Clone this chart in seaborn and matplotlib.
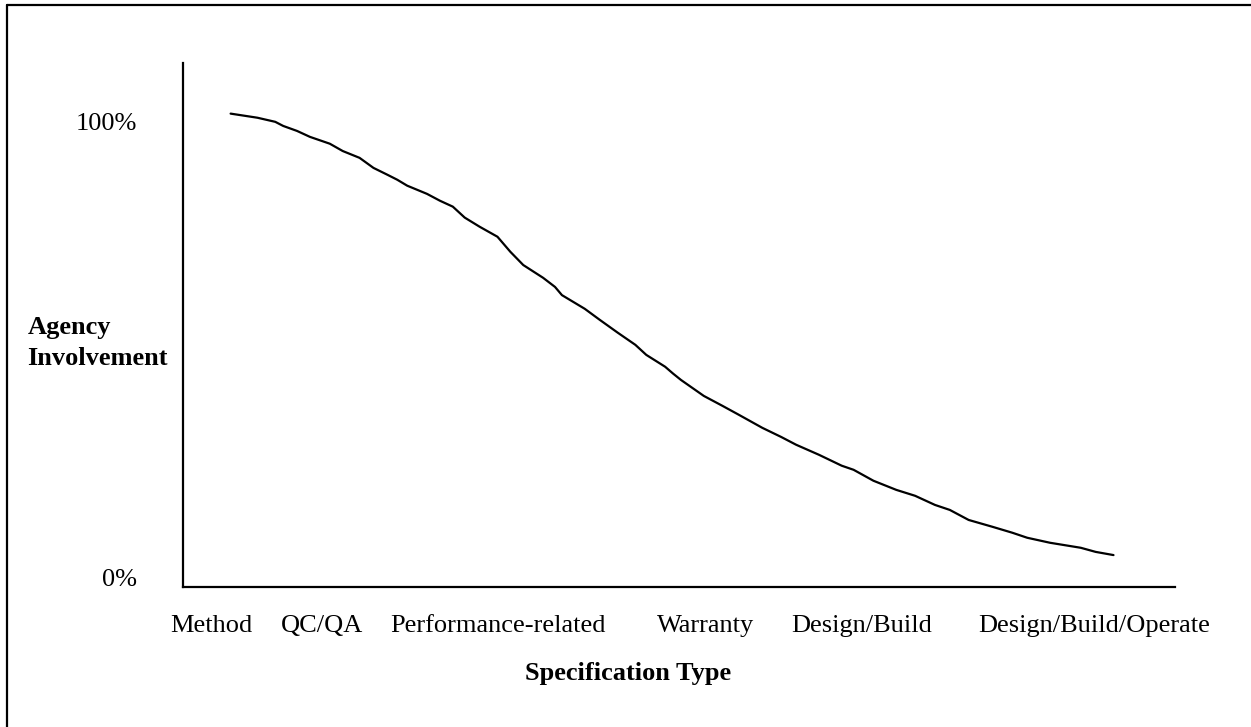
import matplotlib
matplotlib.use("Agg")
import matplotlib.pyplot as plt
from matplotlib.lines import Line2D
import seaborn as sns


# spec types along the x scale (0-100 position scale)
spec_types = ["Method", "QC/QA", "Performance-related", "Warranty",
              "Design/Build", "Design/Build/Operate"]
spec_pos = [2.9, 14.0, 31.8, 52.7, 68.4, 91.9]

# agency involvement curve (%)
curve_pos = [4.8, 7.5, 9.3, 10.1, 11.5, 12.8, 14.8, 16.1, 17.8, 19.2, 20.6,
             21.6, 22.6, 24.6, 25.9, 27.2, 28.4, 29.9, 31.7, 33.0, 34.3,
             36.3, 37.5, 38.2, 40.5, 42.0, 43.8, 45.6, 46.7, 48.6,
             49.4, 50.2, 52.5, 54.4, 56.0, 58.4, 60.3, 61.8, 64.1, 66.4,
             67.6, 69.6, 71.9, 73.8, 75.8, 77.3, 79.2, 81.6, 83.6, 85.1,
             87.4, 90.5, 92.0, 93.8]
involvement = [101.8, 100.9, 100.0, 99.1, 98.0, 96.7, 95.2, 93.6, 92.1, 89.9,
               88.4, 87.3, 86.0, 84.2, 82.7, 81.4, 79.0, 77.0, 74.8, 71.5,
               68.6, 65.8, 63.8, 62.0, 59.0, 56.6, 53.8, 51.1, 48.9,
               46.3, 44.8, 43.4, 39.9, 37.7, 35.8, 32.9, 30.9, 29.2, 27.0,
               24.6, 23.7, 21.3, 19.3, 18.0, 16.0, 14.9, 12.7, 11.2, 9.9,
               8.8, 7.7, 6.6, 5.7, 5.0]

y_ticks = [0, 100]
y_tick_labels = ["0%", "100%"]

W, H = 1251, 727


def main():
    sns.set_theme(style="white")
    plt.rcParams["font.family"] = ["Liberation Serif", "DejaVu Serif"]
    plt.rcParams["font.size"] = 19
    for key in ["text.color", "axes.labelcolor", "xtick.color", "ytick.color"]:
        plt.rcParams[key] = "black"

    fig = plt.figure(figsize=(W / 100, H / 100), dpi=100)
    ax = fig.add_axes([183 / W, (H - 587) / H, 992 / W, 524 / H])

    sns.lineplot(x=curve_pos, y=involvement, color="black", linewidth=1.6,
                 ax=ax)

    ax.set_xlim(0, 100)
    ax.set_ylim(-2.0, 112.9)

    ax.set_xticks(spec_pos, spec_types, fontsize=19)
    ax.set_yticks(y_ticks, y_tick_labels, fontsize=19)
    ax.tick_params(axis="x", length=0, pad=20)
    ax.tick_params(axis="y", length=0, pad=33)

    sns.despine(ax=ax)
    for side in ["left", "bottom"]:
        ax.spines[side].set_color("black")
        ax.spines[side].set_linewidth(1.6)

    ax.set_xlabel("Specification Type", fontsize=19, fontweight="bold",
                  va="baseline")
    ax.xaxis.set_label_coords(0.4486, -0.1775)
    ax.set_ylabel("Agency\nInvolvement", fontsize=19, fontweight="bold",
                  rotation=0, ha="left", va="top", linespacing=1.45)
    ax.yaxis.set_label_coords(-0.157, 0.5172)

    # scanned page frame (left and top edges)
    fig.add_artist(Line2D([7 / W, 7 / W], [0, 1 - 5 / H],
                          transform=fig.transFigure, color="black", lw=1.6))
    fig.add_artist(Line2D([7 / W, 1], [1 - 5 / H, 1 - 5 / H],
                          transform=fig.transFigure, color="black", lw=1.6))

    fig.savefig("out.png", dpi=100, facecolor="white")
    plt.close(fig)


if __name__ == "__main__":
    main()
